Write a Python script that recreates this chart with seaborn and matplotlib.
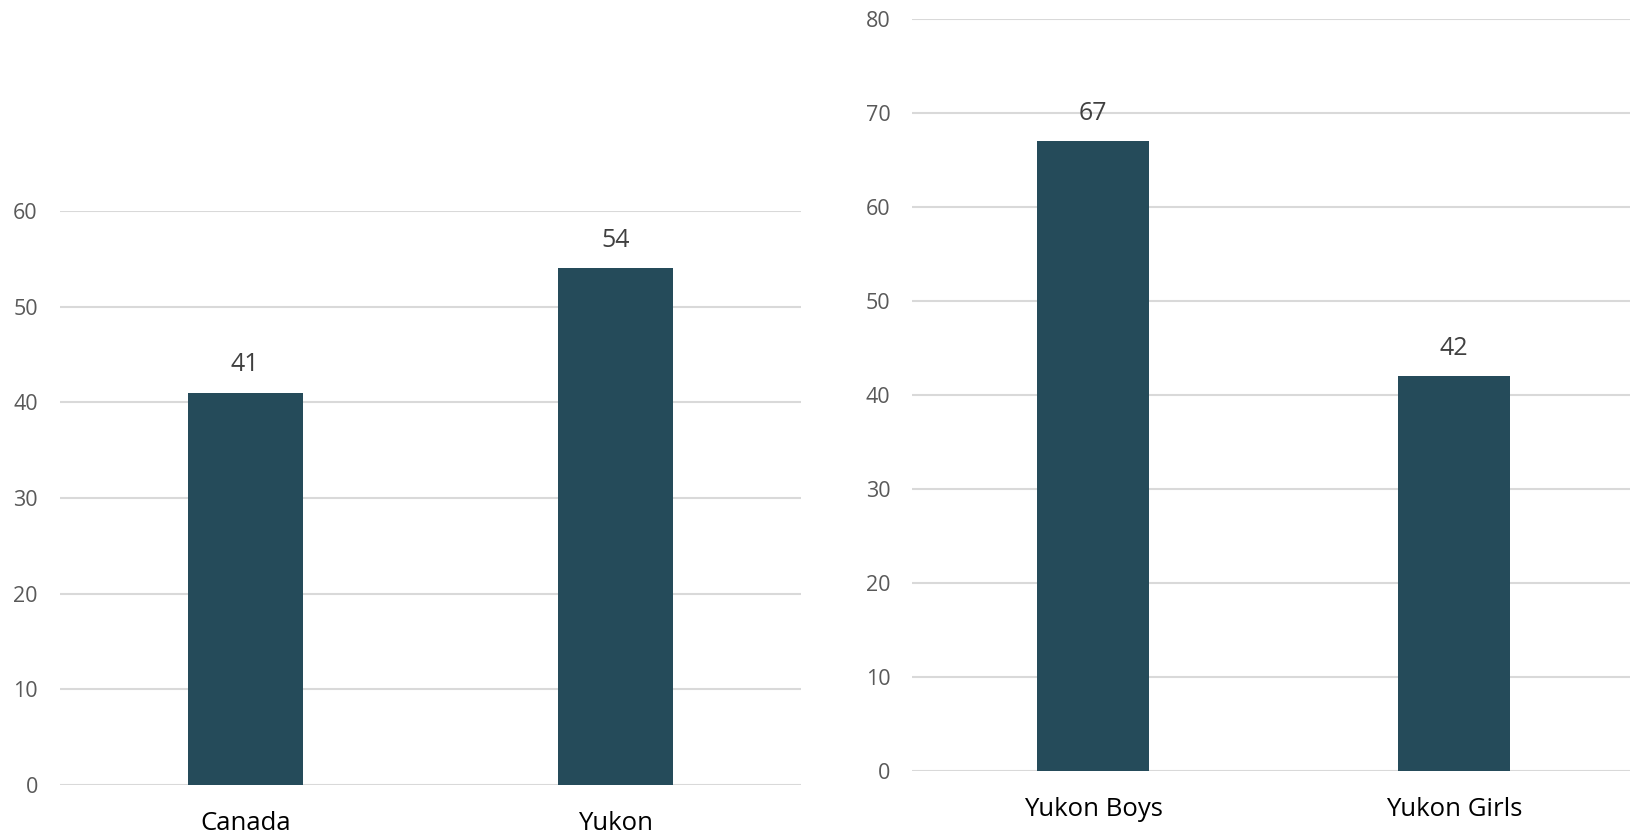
import matplotlib
matplotlib.use("Agg")
import matplotlib.pyplot as plt
import seaborn as sns
import pandas as pd

# Data
left_categories = ["Canada", "Yukon"]
left_values = [41, 54]
right_categories = ["Yukon Boys", "Yukon Girls"]
right_values = [67, 42]
left_ticks = [0, 10, 20, 30, 40, 50, 60]
right_ticks = [0, 10, 20, 30, 40, 50, 60, 70, 80]

sns.set_theme(style="white")
plt.rcParams["font.family"] = ["Open Sans", "DejaVu Sans"]

BAR = "#254B5A"
GRID = "#D9D9D9"
TICK = "#595959"
VAL = "#404040"

W, H = 1631, 835
fig = plt.figure(figsize=(W / 100, H / 100), dpi=100)

def px_axes(x0, x1, y_top, y_bot):
    return fig.add_axes([x0 / W, (H - y_bot) / H, (x1 - x0) / W, (y_bot - y_top) / H])

ax1 = px_axes(60, 801, 211, 785)
ax2 = px_axes(912.5, 1634.5, 19, 771)

def draw(ax, cats, vals, ticks):
    df = pd.DataFrame({"cat": cats, "val": vals})
    sns.barplot(data=df, x="cat", y="val", ax=ax, color=BAR, saturation=1,
                width=0.31, edgecolor=BAR, linewidth=0)
    ax.set_ylim(ticks[0], ticks[-1])
    ax.set_xlim(-0.5, len(cats) - 0.5)
    ax.set_yticks(ticks)
    ax.set_yticklabels([str(t) for t in ticks])
    ax.set_xlabel("")
    ax.set_ylabel("")
    ax.yaxis.grid(True, color=GRID, linewidth=1.5)
    ax.set_axisbelow(True)
    for s in ax.spines.values():
        s.set_visible(False)
    ax.tick_params(axis="y", length=0, pad=16, labelsize=15.5, labelcolor=TICK)
    ax.tick_params(axis="x", length=0, pad=19, labelsize=18.5, labelcolor="#000000")
    for c in ax.containers:
        ax.bar_label(c, labels=[str(v) for v in vals], padding=11, fontsize=18,
                     color=VAL)

draw(ax1, left_categories, left_values, left_ticks)
draw(ax2, right_categories, right_values, right_ticks)

fig.savefig("out.png", dpi=100, facecolor="white")
